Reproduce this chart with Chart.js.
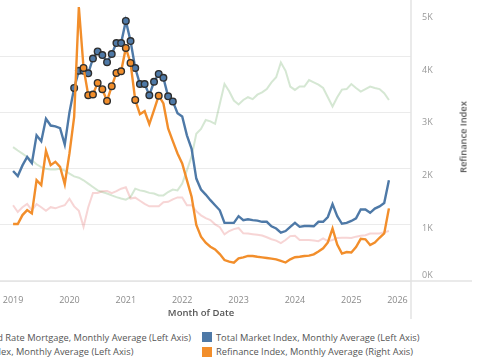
<!DOCTYPE html>
<html>
<head>
<meta charset="utf-8">
<script src="https://cdn.jsdelivr.net/npm/chart.js@4.4.1/dist/chart.umd.min.js"></script>
<style>
  html, body { margin: 0; padding: 0; width: 480px; height: 360px; overflow: hidden; background: #fff; }
  body { position: relative; font-family: 'Open Sans', sans-serif; }
  #wrap { position: absolute; left: -70px; top: -8px; }
  #wrap canvas { display: block; }
  #rightTitle {
    position: absolute; left: 463px; top: 137px;
    transform: translate(-50%, -50%) rotate(-90deg);
    font-size: 9.3px; font-weight: 600; color: #555; white-space: nowrap;
  }
  .legend { position: absolute; top: 330px; font-size: 9.3px; color: #555; white-space: nowrap; }
  .legend .row { display: flex; align-items: center; height: 14.4px; }
  .legend .sw { width: 10px; height: 10px; margin-right: 4.5px; flex: none; }
</style>
</head>
<body>

<div id="wrap"><canvas id="chart" width="550" height="330"></canvas></div>
<div id="rightTitle">Refinance Index</div>

<div class="legend" id="legLeft" style="right:289px">
  <div class="row"><span class="sw" style="background:#59a14f"></span>30-Year Fixed Rate Mortgage, Monthly Average (Left Axis)</div>
  <div class="row"><span class="sw" style="background:#e15759"></span>Purchase Index, Monthly Average (Left Axis)</div>
</div>
<div class="legend" id="legRight" style="left:201.5px">
  <div class="row"><span class="sw" style="background:#4e79a7"></span>Total Market Index, Monthly Average (Left Axis)</div>
  <div class="row"><span class="sw" style="background:#f28e2b"></span>Refinance Index, Monthly Average (Right Axis)</div>
</div>

<script>
// ============= DATA =============
// months Jan 2019 .. Sep 2025 (81 points)
const firstYear = 2019;
const months = [];
for (let k = 0; k < 81; k++) {
  months.push((firstYear + Math.floor(k / 12)) + '-' + String(k % 12 + 1).padStart(2, '0'));
}

const yearLabels = ['2019', '2020', '2021', '2022', '2023', '2024', '2025', '2026'];
const refiTickValues = [0, 1000, 2000, 3000, 4000, 5000];
const leftGridValues = [0, 200, 400, 600, 800];

// 30-year fixed rate (x100), left axis
const fixedRate = [
  477, 465, 454, 442, 430, 416, 406, 400, 397, 397, 400, 394,
  383, 373, 368, 359, 347, 335, 323, 317, 312, 305, 299, 294,
  290, 299, 329, 323, 320, 314, 312, 305, 305, 317, 326, 323,
  347, 394, 444, 525, 542, 574, 569, 560, 631, 702, 676, 643,
  629, 645, 655, 648, 664, 672, 684, 708, 726, 779, 749, 693,
  681, 693, 693, 716, 708, 700, 688, 655, 622, 655, 682, 684,
  702, 688, 675, 684, 693, 688, 684, 669, 645
];

// purchase index, left axis
const purchaseIndex = [
  270, 246, 263, 275, 252, 274, 263, 250, 263, 259, 265, 270,
  293, 266, 250, 193, 263, 314, 314, 320, 321, 313, 320, 329,
  334, 294, 297, 286, 275, 266, 266, 266, 281, 282, 291, 298,
  298, 270, 270, 249, 234, 224, 217, 202, 192, 166, 178, 185,
  189, 170, 169, 167, 165, 162, 156, 149, 144, 135, 146, 160,
  161, 146, 146, 146, 144, 142, 152, 142, 146, 153, 154, 154,
  153, 158, 161, 163, 169, 169, 169, 174, 178
];

// total market index, left axis
const totalMarket = [
  392, 374, 412, 442, 420, 519, 498, 578, 554, 551, 545, 486,
  601, 688, 749, 749, 740, 793, 818, 805, 780, 809, 848, 848,
  927, 855, 759, 702, 702, 662, 710, 738, 724, 658, 640, 598,
  586, 519, 471, 365, 326, 308, 288, 270, 252, 207, 207, 207,
  231, 217, 220, 217, 215, 211, 211, 195, 187, 172, 178, 193,
  207, 193, 196, 196, 195, 211, 211, 228, 274, 231, 204, 207,
  214, 223, 255, 255, 243, 258, 266, 278, 359
];

// refinance index, right axis
const refinance = [
  1080, 1080, 1250, 1345, 1282, 1913, 1818, 2468, 2197, 2260, 2165, 1837,
  2419, 3112, 5195, 4040, 3523, 3536, 3756, 3636, 3415, 3693, 3945, 3977,
  4419, 4135, 3434, 3163, 3220, 2974, 3239, 3513, 3366, 2892, 2652, 2419,
  2229, 1913, 1597, 1061, 839, 725, 650, 600, 511, 398, 366, 347,
  430, 449, 476, 474, 460, 449, 436, 425, 410, 380, 350, 410,
  450, 460, 474, 480, 505, 560, 620, 730, 995, 690, 520, 550,
  540, 645, 800, 790, 682, 730, 820, 903, 1377
];

// highlighted (marked) months
const totalMarkedIdx = [13, 14, 15, 16, 17, 18, 19, 20, 21, 22, 23, 24, 25, 26, 27, 28, 29, 30, 31, 32, 33, 34];
const refiMarkedIdx = [15, 16, 17, 18, 19, 20, 21, 22, 23, 24, 25, 26, 31];

// ============= CHART =============
const xMin = -4.7, xMax = 84.7;
const blue = '#4e79a7', orange = '#f28e2b';

Chart.defaults.font.family = "'Open Sans', sans-serif";

function series(label, values, color, axis, width, order, marked) {
  return {
    label: label,
    data: values.map(function(v, i) { return { x: i, y: v }; }),
    yAxisID: axis,
    borderColor: color,
    backgroundColor: color,
    borderWidth: width,
    tension: 0,
    order: order,
    pointRadius: function(c) { return marked.indexOf(c.dataIndex) >= 0 ? 3.3 : 0; },
    pointHoverRadius: 0,
    pointBackgroundColor: color,
    pointBorderColor: '#2e2e2e',
    pointBorderWidth: 1.4
  };
}

// pane border lines (Tableau style, running past the axes)
const paneLines = {
  id: 'paneLines',
  beforeDatasetsDraw: function(chart) {
    const ctx = chart.ctx, a = chart.chartArea;
    ctx.save();
    ctx.strokeStyle = '#e3e3e3';
    ctx.lineWidth = 1.5;
    ctx.beginPath();
    ctx.moveTo(a.left, a.bottom);
    ctx.lineTo(a.right + 61, a.bottom);
    ctx.moveTo(a.right, 0);
    ctx.lineTo(a.right, a.bottom + 42);
    ctx.stroke();
    ctx.restore();
  }
};

const chart = new Chart(document.getElementById('chart'), {
  type: 'line',
  data: {
    labels: months,
    datasets: [
      series('Refinance Index, Monthly Average (Right Axis)', refinance, orange, 'yR', 2.4, 0, refiMarkedIdx),
      series('Total Market Index, Monthly Average (Left Axis)', totalMarket, blue, 'yL', 2.4, 1, totalMarkedIdx),
      series('Purchase Index, Monthly Average (Left Axis)', purchaseIndex, 'rgba(225,87,89,0.25)', 'yL', 2, 2, []),
      series('30-Year Fixed Rate Mortgage, Monthly Average (Left Axis)', fixedRate, 'rgba(89,161,79,0.25)', 'yL', 2, 3, [])
    ]
  },
  options: {
    responsive: false,
    maintainAspectRatio: false,
    animation: false,
    layout: { padding: 0 },
    plugins: { legend: { display: false }, tooltip: { enabled: false } },
    scales: {
      x: {
        type: 'linear',
        min: xMin,
        max: xMax,
        grid: { display: false },
        border: { display: false },
        afterBuildTicks: function(s) {
          s.ticks = [{ value: xMin }].concat(yearLabels.map(function(y, k) { return { value: k * 12 }; }));
        },
        ticks: {
          autoSkip: false,
          maxRotation: 0,
          align: 'inner',
          padding: 6,
          color: '#8a8a8a',
          font: { size: 9 },
          callback: function(v) { return v === xMin ? '' : yearLabels[Math.round(v / 12)]; }
        },
        title: {
          display: true,
          text: 'Month of Date',
          color: '#555',
          font: { size: 9.5, weight: '600' },
          padding: { top: 0, bottom: 0 }
        },
        afterFit: function(s) { s.height = 38; }
      },
      yL: {
        position: 'left',
        min: 0,
        max: 1000,
        afterBuildTicks: function(s) { s.ticks = leftGridValues.map(function(v) { return { value: v }; }); },
        ticks: { display: false },
        grid: { color: '#ebebeb', lineWidth: 1, drawTicks: false },
        border: { display: false },
        afterFit: function(s) { s.width = 61; }
      },
      yR: {
        position: 'right',
        min: 0,
        max: 5320,
        afterBuildTicks: function(s) { s.ticks = refiTickValues.map(function(v) { return { value: v }; }); },
        grid: { display: false },
        border: { display: false },
        ticks: {
          padding: 3,
          color: '#999',
          font: { size: 9 },
          callback: function(v) { return v === 0 ? ['0K', ''] : (v / 1000) + 'K'; }
        },
        afterFit: function(s) { s.width = 69; }
      }
    }
  },
  plugins: [paneLines]
});

// line the plot area up with the page: top at 0, left at -9, height 281
const ca = chart.chartArea;
chart.resize(Math.round(ca.left) + 420 + 69, Math.round(ca.top) + 281 + 38);
const ca2 = chart.chartArea;
const wrap = document.getElementById('wrap');
wrap.style.left = (-9 - ca2.left) + 'px';
wrap.style.top = (-ca2.top) + 'px';
</script>
</body>
</html>
